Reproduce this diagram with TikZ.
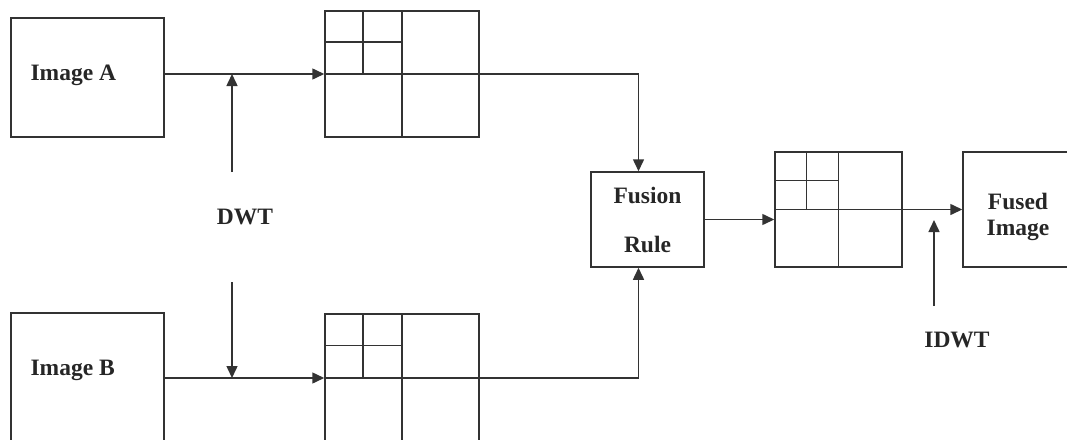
\documentclass[tikz,border=0pt]{standalone}
\usepackage{fontspec}
\setmainfont{Liberation Serif}
\usepackage{tikz}
\usetikzlibrary{arrows.meta, positioning, calc}

% split a box into wavelet sub-bands (two levels)
\newcommand{\subbands}[1]{%
  \draw[line width=1.5pt, black!80] (#1.north) -- (#1.south);
  \draw[line width=1.5pt, black!80] (#1.west) -- (#1.east);
  \draw[line width=1.5pt, black!80] ($(#1.north west)!0.5!(#1.north)$) -- ($(#1.west)!0.5!(#1.center)$);
  \draw[line width=1.5pt, black!80] ($(#1.north west)!0.5!(#1.west)$) -- ($(#1.north)!0.5!(#1.center)$);
}

\begin{document}
\begin{tikzpicture}[
  x=1pt, y=-1pt,
  box/.style={draw=black!80, line width=1.5pt, inner sep=0pt},
  lbl/.style={font=\bfseries\fontsize{23.5}{26}\selectfont, text=black!85, align=center},
  arr/.style={draw=black!80, line width=1.5pt, -{Triangle[length=12pt, width=11pt]}},
]
\useasboundingbox (0,0) rectangle (1067,439);
\clip (0,0) rectangle (1067,439);

% inputs
\node[box, minimum width=153, minimum height=119] (IA) at (87.5,77.5) {};
\node[box, minimum width=153, minimum height=147] (IB) at (87.5,386.5) {};
\node[lbl, anchor=west] (IAtxt) at (27,75) {Image A};
\node[lbl, anchor=west] (IBtxt) at (27,370) {Image B};

% decompositions
\node[box, minimum width=154, minimum height=126] (DA) at (402,74) {};
\node[box, minimum width=154, minimum height=128] (DB) at (402,378) {};
\node[box, minimum width=127, minimum height=115] (DF) at (838.5,209.5) {};
\subbands{DA}
\subbands{DB}
\subbands{DF}

\node[box, lbl, minimum width=113, minimum height=95] (FR) at (647.5,219.5) {Fusion\\[23pt]Rule};
\node[box, minimum width=110, minimum height=115] (FI) at (1018,209.5) {};
\node[lbl] (FItxt) at (1018,217) {Fused\\Image};

% connectors
\draw[arr] (DA.west -| IA.east) -- (DA.west);
\draw[arr] (DB.west -| IB.east) -- (DB.west);
\draw[arr] (DA.east) -| ([xshift=-9pt]FR.north);
\draw[arr] (DB.east) -| ([xshift=-9pt]FR.south);
\draw[arr] (FR.east) -- (FR.east -| DF.west);
\draw[arr] (DF.east) -- (FI.west);

% transforms
\coordinate (dwtA) at (232,172);
\coordinate (dwtB) at (232,282);
\draw[arr] (dwtA) -- (dwtA |- DA.west);
\draw[arr] (dwtB) -- (dwtB |- DB.west);
\node[lbl] (dwt) at (245,217) {DWT};

\coordinate (idwt) at (934,306);
\draw[arr] (idwt) -- ++(0,-86);
\node[lbl] (idwtlbl) at (957,340) {IDWT};
\end{tikzpicture}
\end{document}
